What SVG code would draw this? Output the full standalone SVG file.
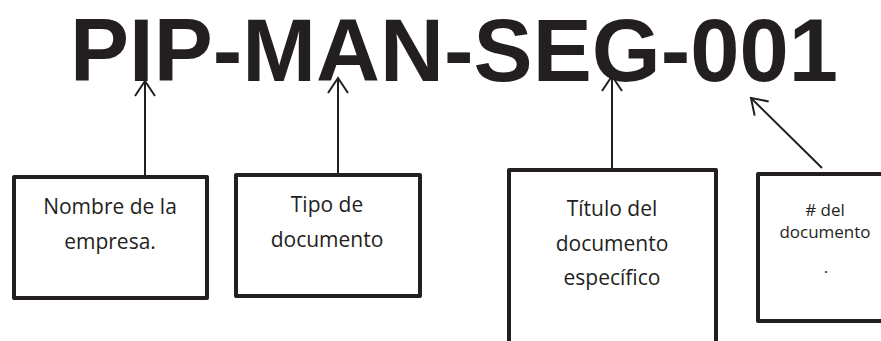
<svg xmlns="http://www.w3.org/2000/svg" width="881" height="341" viewBox="0 0 881 341">
  <style>
    .box { fill: #ffffff; stroke: #231f20; stroke-width: 4; stroke-linejoin: round; }
    .lbl { font-family: "Open Sans", "Noto Sans", "DejaVu Sans", sans-serif; font-size: 21px; fill: #231f20; text-anchor: middle; }
    .lbl-s { font-size: 17px; }
    .conn { stroke: #231f20; stroke-width: 2; fill: none; }
    .title { font-family: "Liberation Sans", Arial, sans-serif; font-weight: bold; font-size: 89px; fill: #231f20; }
  </style>
  <defs>
    <marker id="arr" markerUnits="userSpaceOnUse" viewBox="-18 -12 20 24" markerWidth="20" markerHeight="24" refX="0" refY="0" orient="auto">
      <path d="M-15,-10 L0,0 L-15,10" fill="none" stroke="#231f20" stroke-width="2"/>
    </marker>
  </defs>
  <rect width="881" height="341" fill="#ffffff"/>
  <g id="title">
    <text class="title" x="70" y="81" textLength="768" lengthAdjust="spacingAndGlyphs">PIP-MAN-SEG-001</text>
  </g>
  <g id="connectors">
    <line class="conn" x1="145" y1="177" x2="145" y2="81" marker-end="url(#arr)"/>
    <line class="conn" x1="338" y1="175" x2="338" y2="78" marker-end="url(#arr)"/>
    <line class="conn" x1="612" y1="170" x2="612" y2="76" marker-end="url(#arr)"/>
    <line class="conn" x1="822" y1="168" x2="751" y2="98" marker-end="url(#arr)"/>
  </g>
  <g id="node-empresa">
    <rect class="box" x="14" y="177" width="193" height="121"/>
    <text class="lbl" x="110" y="214">Nombre de la</text>
    <text class="lbl" x="110" y="249">empresa.</text>
  </g>
  <g id="node-tipo">
    <rect class="box" x="236" y="175" width="184" height="121"/>
    <text class="lbl" x="327" y="212">Tipo de</text>
    <text class="lbl" x="327" y="247">documento</text>
  </g>
  <g id="node-titulo">
    <rect class="box" x="509" y="170" width="207" height="200"/>
    <text class="lbl" x="612" y="216">Título del</text>
    <text class="lbl" x="612" y="251">documento</text>
    <text class="lbl" x="612" y="285">específico</text>
  </g>
  <g id="node-numero">
    <rect class="box" x="758" y="174" width="140" height="147"/>
    <text class="lbl lbl-s" x="825" y="216"># del</text>
    <text class="lbl lbl-s" x="825" y="238">documento</text>
    <text class="lbl lbl-s" x="826" y="273">.</text>
  </g>
</svg>
